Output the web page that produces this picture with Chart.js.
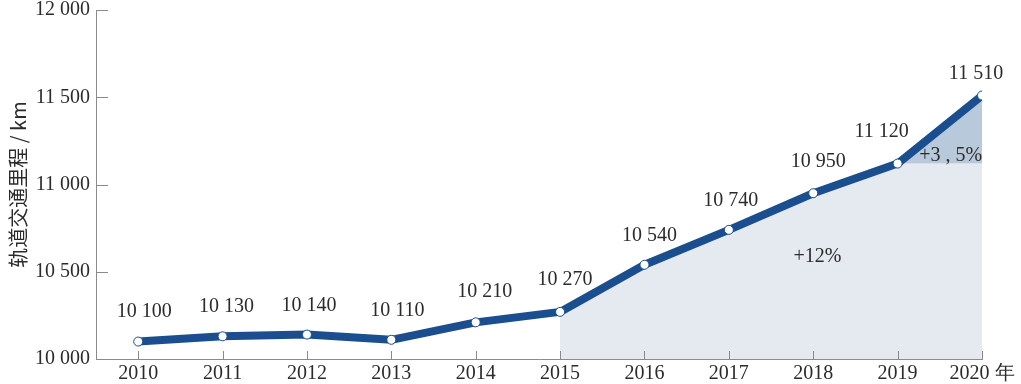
<!DOCTYPE html>
<html>
<head>
<meta charset="utf-8">
<script src="https://cdn.jsdelivr.net/npm/chart.js@4/dist/chart.umd.min.js"></script>
<style>
  html, body { margin: 0; padding: 0; background: #fff; }
  #chart { display: block; }
</style>
</head>
<body>
<canvas id="chart" width="1021" height="384"></canvas>
<script>
const years = [2010, 2011, 2012, 2013, 2014, 2015, 2016, 2017, 2018, 2019, 2020];
const mileage = [10100, 10130, 10140, 10110, 10210, 10270, 10540, 10740, 10950, 11120, 11510];
const yTicks = [10000, 10500, 11000, 11500, 12000];
const yTitle = "轨道交通里程 / km";
const xUnit = "年";
const growthNotes = [
  { text: "+12%", x: 2018.05, y: 10585 },
  { text: "+3 , 5%", x: 2019.63, y: 11167 }
];

// label nudges (px) so the value labels sit like the original
const labelDx = [6, 4, 2, 6, 9, 5, 5, 2, 5, -16, -6];
const labelDy = [-30, -30, -29, -29, -31, -32, -29, -29, -31, -32, -22];

const fmt = v => String(v).replace(/\B(?=(\d{3})+(?!\d))/g, " ");
const pts = years.map((y, i) => ({ x: y, y: mileage[i] }));
const i2015 = years.indexOf(2015);
const i2019 = years.indexOf(2019);
const lightArea = pts.slice(i2015, i2019 + 1).concat([{ x: years[i2019 + 1], y: mileage[i2019] }]);
const darkArea = [pts[i2019], pts[i2019 + 1]];

const SERIF = "'Liberation Serif', 'Times New Roman', serif";
const TEXT = "#2b2b2b";
const AXIS = "#8a8a8a";

const extras = {
  id: "extras",
  afterDraw(chart) {
    const { ctx, chartArea, scales: { x, y } } = chart;
    ctx.save();
    // inner tick marks
    ctx.strokeStyle = AXIS;
    ctx.lineWidth = 1;
    yTicks.forEach(v => {
      const py = Math.round(y.getPixelForValue(v)) + 0.5;
      ctx.beginPath();
      ctx.moveTo(chartArea.left, py);
      ctx.lineTo(chartArea.left + 12, py);
      ctx.stroke();
    });
    years.forEach(v => {
      const px = Math.round(x.getPixelForValue(v)) + 0.5;
      ctx.beginPath();
      ctx.moveTo(px, chartArea.bottom);
      ctx.lineTo(px, chartArea.bottom - 8);
      ctx.stroke();
    });
    // value labels
    ctx.fillStyle = TEXT;
    ctx.font = "20px " + SERIF;
    ctx.textAlign = "center";
    ctx.textBaseline = "middle";
    pts.forEach((p, i) => {
      ctx.fillText(fmt(p.y), x.getPixelForValue(p.x) + labelDx[i], y.getPixelForValue(p.y) + labelDy[i]);
    });
    // growth notes
    growthNotes.forEach(n => {
      ctx.fillText(n.text, x.getPixelForValue(n.x), y.getPixelForValue(n.y));
    });
    ctx.restore();
  }
};

new Chart(document.getElementById("chart"), {
  type: "line",
  data: {
    datasets: [
      {
        data: pts,
        borderColor: "#1b4e8e",
        borderWidth: 8,
        borderCapStyle: "round",
        borderJoinStyle: "round",
        tension: 0,
        pointRadius: 4.5,
        pointBackgroundColor: "#ffffff",
        pointBorderColor: "#1b4e8e",
        pointBorderWidth: 1,
        fill: false,
        order: 0
      },
      {
        data: lightArea,
        borderWidth: 0,
        pointRadius: 0,
        backgroundColor: "#e5eaf0",
        fill: "start",
        order: 2
      },
      {
        data: darkArea,
        borderWidth: 0,
        pointRadius: 0,
        backgroundColor: "#b9c9dc",
        fill: { value: mileage[i2019] },
        order: 1
      }
    ]
  },
  options: {
    responsive: false,
    animation: false,
    layout: { padding: { top: 0, right: 39, left: 0, bottom: 0 } },
    plugins: { legend: { display: false }, tooltip: { enabled: false } },
    scales: {
      x: {
        type: "linear",
        min: 2009.5,
        max: 2020,
        afterBuildTicks: s => { s.ticks = years.map(v => ({ value: v })); },
        afterFit: s => { s.height = 25; },
        grid: { display: true, drawOnChartArea: false, drawTicks: false },
        border: { display: true, color: AXIS, width: 1 },
        ticks: {
          color: TEXT,
          font: { family: SERIF, size: 20 },
          padding: 3,
          maxRotation: 0,
          autoSkip: false,
          callback: v => v === years[years.length - 1] ? v + " " + xUnit : String(v)
        }
      },
      y: {
        min: 10000,
        max: 12000,
        afterBuildTicks: s => { s.ticks = yTicks.map(v => ({ value: v })); },
        afterFit: s => { s.width = 96; s.paddingTop = 10; },
        grid: { display: true, drawOnChartArea: false, drawTicks: false },
        border: { display: true, color: AXIS, width: 1 },
        title: {
          display: true,
          text: yTitle,
          color: TEXT,
          font: { family: "'Noto Sans CJK SC', " + SERIF, size: 20 },
          padding: { top: 6, bottom: 0 }
        },
        ticks: {
          color: TEXT,
          font: { family: SERIF, size: 20 },
          padding: 6,
          callback: v => fmt(v)
        }
      }
    }
  },
  plugins: [extras]
});
</script>
</body>
</html>
